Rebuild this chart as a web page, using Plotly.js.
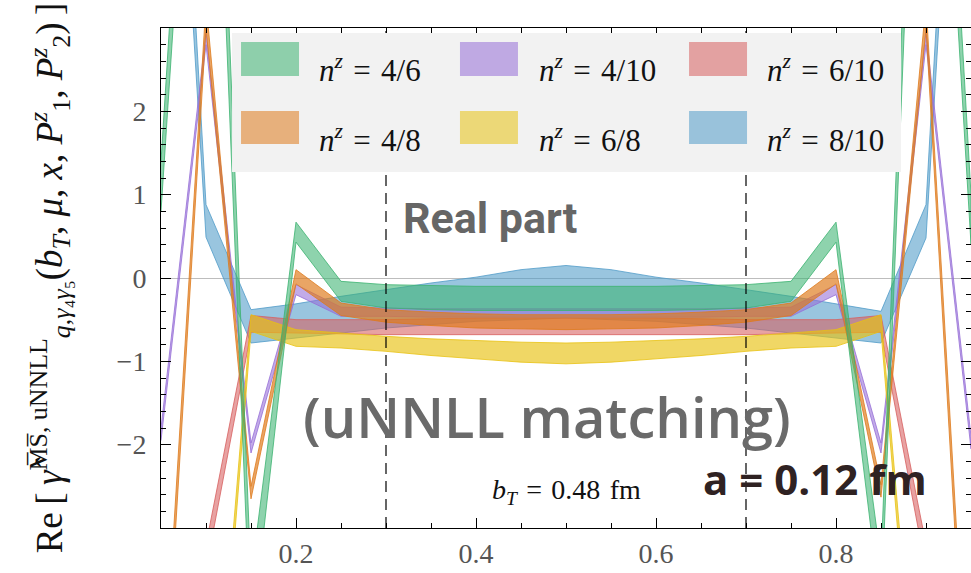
<!DOCTYPE html>
<html>
<head>
<meta charset="utf-8">
<script src="https://cdn.plot.ly/plotly-3.0.1.min.js"></script>
<style>html,body{margin:0;padding:0;background:#fff;}#chart{width:971px;height:573px;}</style>
</head>
<body>
<div id="chart"></div>
<script>
// x grid (momentum fraction)
const xVals = [0.05,0.10,0.15,0.20,0.25,0.30,0.35,0.40,0.45,0.50,0.55,0.60,0.65,0.70,0.75,0.80,0.85,0.90,0.95];

// Series labels (legend)
const seriesLabels = ['4/6','4/8','4/10','6/8','6/10','8/10'];

// n^z = 4/6
const g46Lo = [0.8, 9.0, -4.4, 0.43, -0.28, -0.36, -0.38, -0.39, -0.39, -0.39, -0.39, -0.39, -0.38, -0.36, -0.28, 0.43, -4.0, 9.5, 0.4];
const g46Hi = [1.4, 10.0, -3.6, 0.67, -0.04, -0.08, -0.09, -0.10, -0.10, -0.10, -0.10, -0.10, -0.09, -0.08, -0.04, 0.67, -3.4, 10.5, 1.0];
// n^z = 4/8
const g48Lo = [-5.9, 3.0, -2.65, -0.07, -0.45, -0.53, -0.57, -0.60, -0.61, -0.62, -0.61, -0.60, -0.57, -0.53, -0.45, -0.07, -2.63, 3.0, -6.4];
const g48Hi = [-5.5, 3.3, -2.50, 0.10, -0.30, -0.38, -0.41, -0.43, -0.44, -0.44, -0.44, -0.43, -0.41, -0.38, -0.30, 0.10, -2.48, 3.3, -6.0];
// n^z = 4/10
const g410Lo = [-1.95, 2.80, -2.10, -0.20, -0.46, -0.46, -0.47, -0.47, -0.47, -0.47, -0.47, -0.47, -0.47, -0.46, -0.46, -0.20, -2.10, 2.80, -2.05];
const g410Hi = [-1.80, 2.95, -1.98, -0.08, -0.35, -0.36, -0.37, -0.37, -0.37, -0.37, -0.37, -0.37, -0.37, -0.36, -0.35, -0.08, -1.98, 2.95, -1.90];
// n^z = 6/8
const g68Lo = [-7.6, -7.4, -0.64, -0.82, -0.84, -0.88, -0.93, -0.97, -1.01, -1.03, -1.01, -0.97, -0.93, -0.88, -0.84, -0.82, -0.64, -7.1, -7.6];
const g68Hi = [-7.2, -7.0, -0.44, -0.62, -0.66, -0.70, -0.73, -0.75, -0.77, -0.78, -0.77, -0.75, -0.73, -0.70, -0.66, -0.62, -0.44, -6.7, -7.2];
// n^z = 6/10
const g610Lo = [-5.3, -3.50, -0.65, -0.66, -0.67, -0.68, -0.68, -0.68, -0.68, -0.68, -0.68, -0.68, -0.68, -0.68, -0.67, -0.66, -0.65, -3.50, -5.3];
const g610Hi = [-5.0, -3.20, -0.45, -0.50, -0.50, -0.50, -0.49, -0.48, -0.48, -0.48, -0.48, -0.48, -0.49, -0.50, -0.50, -0.50, -0.45, -3.20, -5.0];
// n^z = 8/10
const g810Lo = [9.4, 0.49, -0.78, -0.72, -0.66, -0.60, -0.56, -0.52, -0.50, -0.48, -0.50, -0.52, -0.56, -0.60, -0.66, -0.72, -0.78, 0.48, 9.4];
const g810Hi = [10.4, 0.88, -0.38, -0.31, -0.22, -0.14, -0.06, 0.01, 0.10, 0.15, 0.10, 0.01, -0.06, -0.14, -0.22, -0.31, -0.40, 0.88, 10.4];

// axis ticks
const xTickVals = [0.2, 0.4, 0.6, 0.8];
const yTickVals = [-2, -1, 0, 1, 2];
const guideX = [0.3, 0.7];

const rgb = {
  '4/6':  [60,179,113],
  '4/8':  [222,122,28],
  '4/10': [150,110,215],
  '6/8':  [232,194,18],
  '6/10': [215,95,95],
  '8/10': [80,155,200]
};
const alpha = {'4/6':0.58,'4/8':0.68,'4/10':0.58,'6/8':0.65,'6/10':0.58,'8/10':0.58};
const bands = {
  '4/6': [g46Lo, g46Hi], '4/8': [g48Lo, g48Hi], '4/10': [g410Lo, g410Hi],
  '6/8': [g68Lo, g68Hi], '6/10': [g610Lo, g610Hi], '8/10': [g810Lo, g810Hi]
};
const drawOrder = ['8/10','6/10','4/10','6/8','4/8','4/6'];
const rgba = (c,a) => `rgba(${c[0]},${c[1]},${c[2]},${a})`;

const traces = drawOrder.map(k => {
  const [lo, hi] = bands[k];
  return {
    type: 'scatter', mode: 'lines', name: 'n^z = ' + k,
    x: xVals.concat(xVals.slice().reverse()),
    y: hi.concat(lo.slice().reverse()),
    fill: 'toself', fillcolor: rgba(rgb[k], alpha[k]),
    line: {color: rgba(rgb[k], 0.8), width: 1},
    showlegend: false, hoverinfo: 'skip'
  };
});

const SERIF = '"Liberation Serif", "DejaVu Serif", serif';

// manual legend (paper coords)
const shapes = [];
guideX.forEach(gx => shapes.push({type:'line', xref:'x', yref:'paper', x0:gx, x1:gx, y0:0, y1:1,
  line:{color:'#000', width:1.2, dash:'11px,7px'}, layer:'above'}));
shapes.push({type:'rect', xref:'paper', yref:'paper', x0:0.0877, x1:0.9136, y0:0.712, y1:0.99,
  fillcolor:'#f2f2f2', line:{width:0}, layer:'above'});
const colX = [0.0988, 0.3691, 0.6519];
const rowY = [[0.904,0.972],[0.768,0.834]];
const textX = [0.1926, 0.464, 0.7457];
const textY = [0.918, 0.78];
const annotations = [];
seriesLabels.forEach((k, i) => {
  const col = Math.floor(i / 2), row = i % 2;
  shapes.push({type:'rect', xref:'paper', yref:'paper', x0:colX[col], x1:colX[col]+0.0716,
    y0:rowY[row][0], y1:rowY[row][1], fillcolor: rgba(rgb[k],0.55), line:{width:0}, layer:'above'});
  annotations.push({xref:'paper', yref:'paper', x:textX[col], y:textY[row], xanchor:'left', yanchor:'middle',
    showarrow:false, text:'<i>n</i><sup><i>z</i></sup>\u2004=\u2004' + k,
    font:{family:SERIF, size:31, color:'#111'}});
});

annotations.push({xref:'x', yref:'y', x:0.4156, y:0.72, showarrow:false, text:'<b>Real part</b>',
  font:{family:'Roboto, sans-serif', size:43, color:'#666666'}});
annotations.push({xref:'x', yref:'y', x:0.479, y:-1.66, showarrow:false, text:'(uNNLL matching)',
  font:{family:'"Open Sans", sans-serif', size:56, color:'#6a6a6a', weight:600}});
annotations.push({xref:'x', yref:'y', x:0.5, y:-2.556, showarrow:false,
  text:'<i>b<sub>T</sub></i>\u2004=\u20040.48\u2004fm',
  font:{family:SERIF, size:28, color:'#111'}});
annotations.push({xref:'x', yref:'y', x:0.7767, y:-2.4, showarrow:false, text:'<b>a = 0.12 fm</b>',
  font:{family:'"Open Sans", sans-serif', size:42, color:'#2f2222'}});

const layout = {
  width: 971, height: 573,
  margin: {l:161, r:0, t:28, b:45},
  paper_bgcolor:'#fff', plot_bgcolor:'#fff',
  showlegend:false,
  xaxis: {
    range:[0.05, 0.95], showgrid:false, zeroline:false,
    showline:true, linecolor:'#000', linewidth:1, mirror:'ticks',
    ticks:'inside', ticklen:10, tickcolor:'#000', tickwidth:1,
    tickmode:'array', tickvals:xTickVals, ticktext:xTickVals.map(v=>v.toFixed(1)),
    minor:{tickmode:'linear', tick0:0, dtick:0.05, ticks:'inside', ticklen:5, tickcolor:'#000', showgrid:false},
    tickfont:{family:SERIF, size:28, color:'#555'}
  },
  yaxis: {
    range:[-3, 3], showgrid:false,
    zeroline:true, zerolinecolor:'#bdbdbd', zerolinewidth:1,
    showline:true, linecolor:'#000', linewidth:1, mirror:'ticks',
    ticks:'inside', ticklen:10, tickcolor:'#000', tickwidth:1,
    tickmode:'array', tickvals:yTickVals, ticklabelstandoff:8,
    minor:{tickmode:'linear', tick0:0, dtick:0.2, ticks:'inside', ticklen:5, tickcolor:'#000', showgrid:false},
    tickfont:{family:SERIF, size:28, color:'#555'},
    title:{text:'Re\u2009[\u2009<i>γ\u0302</i><sup>M\u0305S\u0305, uNNLL</sup><sub><i>q</i>,<i>γ</i>₄<i>γ</i>₅</sub>(<i>b<sub>T</sub></i>, <i>μ</i>, <i>x</i>, <i>P</i><sup><i>z</i></sup><sub>1</sub>, <i>P</i><sup><i>z</i></sup><sub>2</sub>)\u2009]',
      font:{family:SERIF, size:37, color:'#111'}, standoff:42}
  },
  shapes: shapes,
  annotations: annotations
};

Plotly.newPlot('chart', traces, layout, {staticPlot:true, displayModeBar:false});
</script>
</body>
</html>
